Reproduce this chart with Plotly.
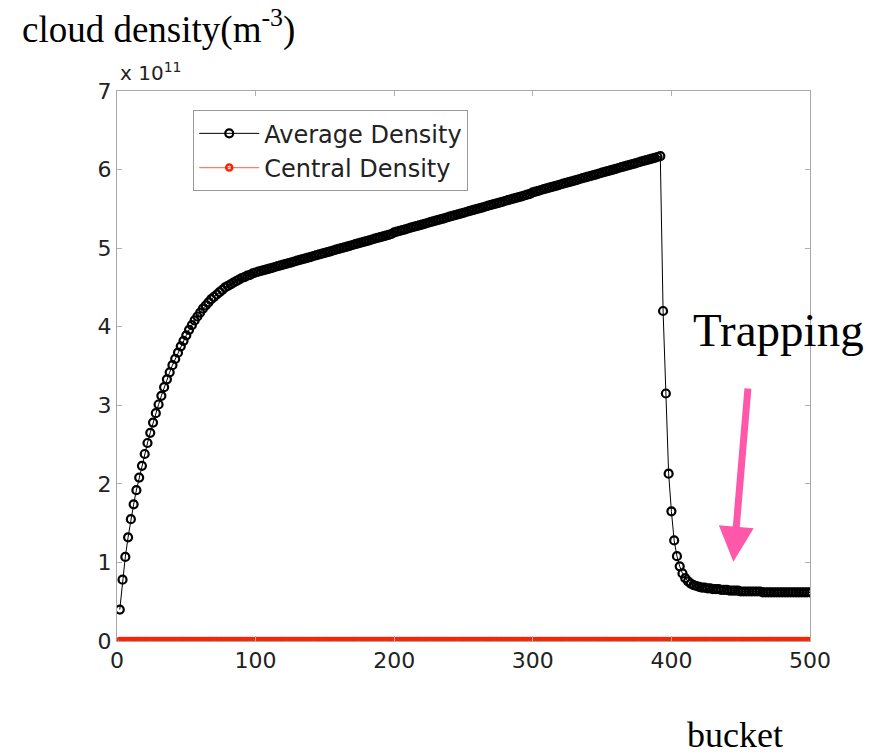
import plotly.graph_objects as go

# ---- data (density in units of 1e11 m^-3) ----
bucket = list(range(2, 501, 2))

average_density = [
    0.40, 0.78, 1.07, 1.32, 1.55, 1.74, 1.92, 2.08, 2.23, 2.38,
    2.52, 2.65, 2.78, 2.90, 3.01, 3.12, 3.23, 3.33, 3.42, 3.51,
    3.59, 3.67, 3.75, 3.82, 3.89, 3.96, 4.02, 4.08, 4.13, 4.18,
    4.23, 4.27, 4.31, 4.35, 4.38, 4.41, 4.44, 4.47, 4.50, 4.52,
    4.54, 4.56, 4.58, 4.60, 4.62, 4.63, 4.65, 4.66, 4.68, 4.69,
    4.70, 4.71, 4.72, 4.73, 4.74, 4.75, 4.76, 4.77, 4.78, 4.79,
    4.80, 4.81, 4.82, 4.83, 4.84, 4.85, 4.86, 4.87, 4.88, 4.89,
    4.90, 4.91, 4.92, 4.93, 4.94, 4.95, 4.96, 4.97, 4.98, 4.99,
    5.00, 5.01, 5.02, 5.03, 5.04, 5.05, 5.06, 5.07, 5.08, 5.09,
    5.10, 5.11, 5.12, 5.13, 5.14, 5.15, 5.16, 5.17, 5.18, 5.20,
    5.21, 5.22, 5.23, 5.24, 5.25, 5.26, 5.27, 5.28, 5.29, 5.30,
    5.31, 5.32, 5.33, 5.34, 5.35, 5.36, 5.37, 5.38, 5.39, 5.40,
    5.41, 5.42, 5.43, 5.44, 5.45, 5.46, 5.47, 5.48, 5.49, 5.50,
    5.51, 5.52, 5.53, 5.54, 5.55, 5.56, 5.57, 5.58, 5.59, 5.60,
    5.61, 5.62, 5.63, 5.64, 5.65, 5.66, 5.67, 5.68, 5.69, 5.71,
    5.72, 5.73, 5.74, 5.75, 5.76, 5.77, 5.78, 5.79, 5.80, 5.81,
    5.82, 5.83, 5.84, 5.85, 5.86, 5.87, 5.88, 5.89, 5.90, 5.91,
    5.92, 5.93, 5.94, 5.95, 5.96, 5.97, 5.98, 5.99, 6.00, 6.01,
    6.02, 6.03, 6.04, 6.05, 6.06, 6.07, 6.08, 6.09, 6.10, 6.11,
    6.12, 6.13, 6.14, 6.15, 6.16, 6.17,
    4.20, 3.15, 2.13, 1.65, 1.28, 1.08, 0.95, 0.86, 0.80, 0.76,
    0.73, 0.71, 0.70, 0.69, 0.68, 0.68, 0.67, 0.67, 0.66, 0.66,
    0.66, 0.65, 0.65, 0.65, 0.64, 0.64, 0.64, 0.64, 0.63, 0.63,
    0.63, 0.63, 0.63, 0.63, 0.63, 0.63, 0.62, 0.62, 0.62, 0.62,
    0.62, 0.62, 0.62, 0.62, 0.62, 0.62, 0.62, 0.62, 0.62, 0.62,
    0.62, 0.62, 0.62, 0.62,
]

central_density = [
    0, 0, 0, 0, 0, 0, 0, 0, 0, 0, 0, 0, 0, 0, 0, 0, 0, 0, 0, 0, 0, 0, 0, 0, 0,
    0, 0, 0, 0, 0, 0, 0, 0, 0, 0, 0, 0, 0, 0, 0, 0, 0, 0, 0, 0, 0, 0, 0, 0, 0,
    0, 0, 0, 0, 0, 0, 0, 0, 0, 0, 0, 0, 0, 0, 0, 0, 0, 0, 0, 0, 0, 0, 0, 0, 0,
    0, 0, 0, 0, 0, 0, 0, 0, 0, 0, 0, 0, 0, 0, 0, 0, 0, 0, 0, 0, 0, 0, 0, 0, 0,
    0, 0, 0, 0, 0, 0, 0, 0, 0, 0, 0, 0, 0, 0, 0, 0, 0, 0, 0, 0, 0, 0, 0, 0, 0,
    0, 0, 0, 0, 0, 0, 0, 0, 0, 0, 0, 0, 0, 0, 0, 0, 0, 0, 0, 0, 0, 0, 0, 0, 0,
    0, 0, 0, 0, 0, 0, 0, 0, 0, 0, 0, 0, 0, 0, 0, 0, 0, 0, 0, 0, 0, 0, 0, 0, 0,
    0, 0, 0, 0, 0, 0, 0, 0, 0, 0, 0, 0, 0, 0, 0, 0, 0, 0, 0, 0, 0, 0, 0, 0, 0,
    0, 0, 0, 0, 0, 0, 0, 0, 0, 0, 0, 0, 0, 0, 0, 0, 0, 0, 0, 0, 0, 0, 0, 0, 0,
    0, 0, 0, 0, 0, 0, 0, 0, 0, 0, 0, 0, 0, 0, 0, 0, 0, 0, 0, 0, 0, 0, 0, 0, 0,
]

x_ticks = [0, 100, 200, 300, 400, 500]
y_ticks = [0, 1, 2, 3, 4, 5, 6, 7]

SANS = "DejaVu Sans"
SERIF = "Liberation Serif, Times New Roman, serif"
PINK = "#ff57a9"
RED = "#ff2200"

fig = go.Figure()
fig.add_trace(go.Scatter(
    x=bucket, y=average_density, mode="lines+markers", name="Average Density",
    line=dict(color="black", width=1),
    marker=dict(symbol="circle-open", size=8, color="black", line=dict(width=2.2)),
))
fig.add_trace(go.Scatter(
    x=bucket, y=central_density, mode="lines+markers", name="Central Density",
    line=dict(color="#ff7a6a", width=1.2),
    marker=dict(symbol="circle-open", size=6, color=RED, line=dict(width=2.6)),
))

axis_common = dict(
    showgrid=False, zeroline=False, showline=True, linecolor="#a8a8a8", linewidth=1,
    mirror="ticks", ticks="inside", ticklen=5, tickcolor="#b0b0b0", tickwidth=1,
    tickfont=dict(family=SANS, size=22, color="#222"),
)

fig.update_layout(
    width=883, height=755,
    margin=dict(l=117, r=73, t=91, b=114),
    paper_bgcolor="white", plot_bgcolor="white",
    xaxis=dict(range=[0, 500], tickvals=x_ticks, **axis_common),
    yaxis=dict(range=[0, 7], tickvals=y_ticks, **axis_common),
    showlegend=True,
    legend=dict(
        x=0.11, y=0.965, xanchor="left", yanchor="top",
        bgcolor="white", bordercolor="#999", borderwidth=1,
        itemwidth=60,
        font=dict(family=SANS, size=24, color="#222"),
    ),
    annotations=[
        dict(text="cloud density(m<sup>-3</sup>)", xref="paper", yref="paper",
             x=-0.14, y=1.163, xanchor="left", yanchor="top", showarrow=False,
             font=dict(family=SERIF, size=37, color="black")),
        dict(text="x 10<sup>11</sup>", xref="paper", yref="paper",
             x=0.0015, y=1.035, xanchor="left", yanchor="middle", showarrow=False,
             font=dict(family=SANS, size=20, color="#222")),
        dict(text="Trapping", xref="paper", yref="paper",
             x=0.955, y=0.566, xanchor="center", yanchor="middle", showarrow=False,
             font=dict(family=SERIF, size=47, color="black")),
        dict(text="bucket", xref="paper", yref="paper",
             x=0.892, y=-0.21, xanchor="center", yanchor="bottom", showarrow=False,
             font=dict(family=SERIF, size=36, color="black")),
        dict(text="", xref="x", yref="y", x=444.7, y=1.01,
             ax=14.7, ay=-174.7, showarrow=True,
             arrowhead=2, arrowsize=1, arrowwidth=7, arrowcolor=PINK),
    ],
)

fig.write_html("out.html")
